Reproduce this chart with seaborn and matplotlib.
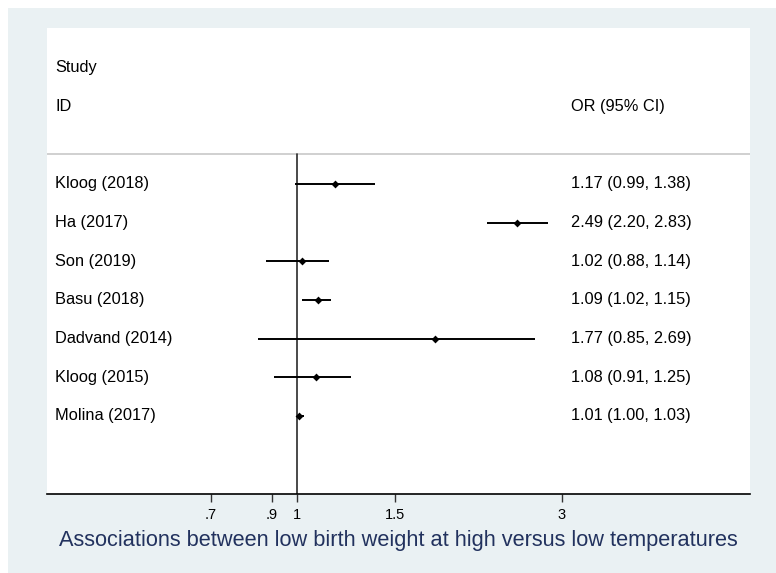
import numpy as np
import pandas as pd
import matplotlib
matplotlib.use("Agg")
import matplotlib.pyplot as plt
import matplotlib.transforms as mtransforms
from matplotlib.patches import Rectangle
import seaborn as sns

# ---- data ----
studies = ["Kloog (2018)", "Ha (2017)", "Son (2019)", "Basu (2018)",
           "Dadvand (2014)", "Kloog (2015)", "Molina (2017)"]
or_values = [1.17, 2.49, 1.02, 1.09, 1.77, 1.08, 1.01]
ci_low = [0.99, 2.20, 0.88, 1.02, 0.85, 0.91, 1.00]
ci_high = [1.38, 2.83, 1.14, 1.15, 2.69, 1.25, 1.03]
ci_text = ["1.17 (0.99, 1.38)", "2.49 (2.20, 2.83)", "1.02 (0.88, 1.14)",
           "1.09 (1.02, 1.15)", "1.77 (0.85, 2.69)", "1.08 (0.91, 1.25)",
           "1.01 (1.00, 1.03)"]
tick_values = [0.7, 0.9, 1, 1.5, 3]
tick_labels = [".7", ".9", "1", "1.5", "3"]
title = "Associations between low birth weight at high versus low temperatures"

df = pd.DataFrame({"study": studies, "OR": or_values, "lo": ci_low,
                   "hi": ci_high, "row": np.arange(len(studies))})

sns.set_theme(style="white")
plt.rcParams["font.family"] = ["Liberation Sans", "DejaVu Sans"]

W, H = 776, 573
fig = plt.figure(figsize=(W / 100, H / 100), dpi=100, facecolor="white")
bg = Rectangle((8 / W, 0), 1 - 8 / W, 1 - 8 / H, transform=fig.transFigure,
               facecolor="#EAF1F3", edgecolor="none", zorder=-10)
fig.add_artist(bg)

bottom_px = 494
ax = fig.add_axes([47 / W, 1 - bottom_px / H, (750 - 47) / W, (bottom_px - 28) / H])
ax.set_zorder(5)
ax.set_facecolor("white")
ax.set_xscale("log")
ax.set_xlim(np.exp((47 - 297) / 241), np.exp((750 - 297) / 241))
ybot = (bottom_px - 184) / 38.67
ax.set_ylim(ybot, -4.03)

# reference line at 1
ax.plot([1, 1], [-0.78, ybot], color="#2A2A2A", lw=1.2, zorder=2)
# header separator
ax.axhline(-0.78, color="#C8C8C8", lw=1.2, zorder=1)

# CIs
ax.hlines(df["row"], df["lo"], df["hi"], color="black", lw=1.4, zorder=3)
sns.scatterplot(data=df, x="OR", y="row", marker="D", s=16, color="black",
                edgecolor="black", linewidth=0, ax=ax, zorder=4, legend=False)

trans = mtransforms.blended_transform_factory(ax.transAxes, ax.transData)
fs = 11.8
ax.text(0.0114, -3, "Study", transform=trans, fontsize=fs, va="center", ha="left", color="black")
ax.text(0.0114, -2, "ID", transform=trans, fontsize=fs, va="center", ha="left", color="black")
ax.text(0.745, -2, "OR (95% CI)", transform=trans, fontsize=fs, va="center", ha="left", color="black")
for i, (s, t) in enumerate(zip(studies, ci_text)):
    ax.text(0.0114, i, s, transform=trans, fontsize=fs, va="center", ha="left", color="black")
    ax.text(0.745, i, t, transform=trans, fontsize=fs, va="center", ha="left", color="black")

ax.set_xticks(tick_values)
ax.set_xticklabels(tick_labels)
ax.xaxis.set_minor_locator(matplotlib.ticker.NullLocator())
ax.tick_params(axis="x", bottom=True, length=6, width=1, color="#333333",
               labelsize=10.5, pad=4, labelcolor="black")
ax.set_yticks([])
ax.set_ylabel("")
ax.set_xlabel(title, fontsize=15.7, color="#22325E", labelpad=6)
for side in ["left", "right", "top"]:
    ax.spines[side].set_visible(False)
ax.spines["bottom"].set_color("black")
ax.spines["bottom"].set_linewidth(1.2)

fig.savefig("out.png", dpi=100, facecolor="white")
